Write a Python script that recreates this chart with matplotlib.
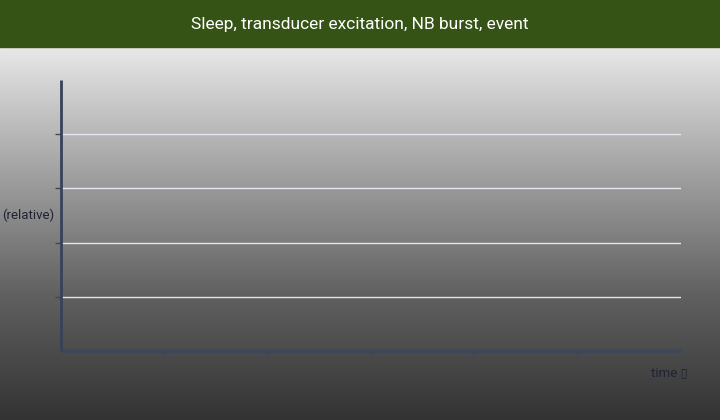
import numpy as np
import matplotlib.pyplot as plt
from matplotlib.colors import LinearSegmentedColormap

# Chart content (the reference has no plotted series)
title = 'Sleep, transducer excitation, NB burst, event'
x_label = 'time \u25af'
y_label = '(relative)'
x_ticks = [1, 2, 3, 4, 5]
y_ticks = [1, 2, 3, 4]
x_range = [0, 6]
y_range = [0, 5]

fig = plt.figure(figsize=(7.2, 4.2), dpi=100)

# gradient background below the title bar
bg = fig.add_axes([0, 0, 1, 1], zorder=0)
grad = np.linspace(0, 1, 256).reshape(-1, 1)
cmap = LinearSegmentedColormap.from_list('bg', ['#e8e8e8', '#a2a2a2', '#606060', '#333333'])
bg.imshow(grad, aspect='auto', cmap=cmap, extent=[0, 1, 0, 373 / 420], origin='upper')
bg.add_patch(plt.Rectangle((0, 373 / 420), 1, 47 / 420, color='#365316'))
bg.set_xlim(0, 1)
bg.set_ylim(0, 1)
bg.axis('off')
fig.text(0.5, 1 - 25 / 420, title, ha='center', va='center', color='white',
         fontsize=12.5, family=['Roboto', 'DejaVu Sans'])

ax = fig.add_axes([61 / 720, 69 / 420, 620 / 720, 271 / 420], zorder=1)
ax.patch.set_alpha(0)
ax.set_xlim(x_range)
ax.set_ylim(y_range)
ax.set_xticks(x_ticks)
ax.set_yticks(y_ticks)
ax.set_xticklabels([])
ax.set_yticklabels([])
ax.grid(axis='y', color='#e4e6f2', linewidth=1)
ax.set_axisbelow(True)
for s in ['top', 'right']:
    ax.spines[s].set_visible(False)
ax.spines['left'].set_color('#36425a')
ax.spines['left'].set_linewidth(2)
ax.spines['bottom'].set_color('#3c4858')
ax.spines['bottom'].set_linewidth(2.5)
for s in ['left', 'bottom']:
    ax.spines[s].set_capstyle('butt')
ax.tick_params(axis='both', colors='#3c4858', length=4, width=1)

fig.text(2 / 720, 1 - 215 / 420, y_label, ha='left', va='center', color='#1f2333',
         fontsize=9.5, family=['Roboto', 'DejaVu Sans'])
fig.text(688 / 720, 1 - 373 / 420, x_label, ha='right', va='center', color='#1f2333',
         fontsize=9.5, family=['Roboto', 'DejaVu Sans'])

plt.savefig('out.png', dpi=100)
